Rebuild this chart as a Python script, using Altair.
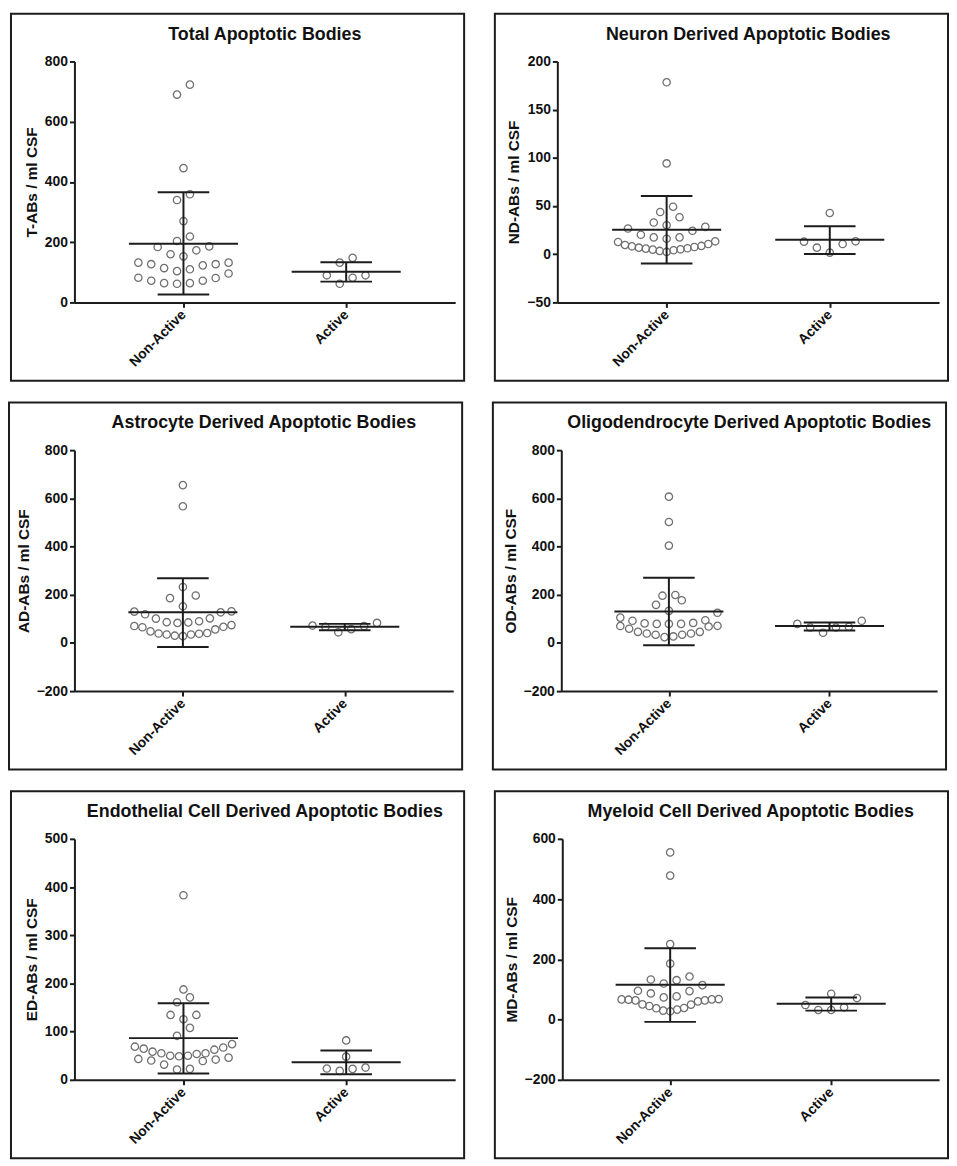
import altair as alt
import pandas as pd

GROUPS = ["Non-Active", "Active"]

TITLES = [
    "Total Apoptotic Bodies",
    "Neuron Derived Apoptotic Bodies",
    "Astrocyte Derived Apoptotic Bodies",
    "Oligodendrocyte Derived Apoptotic Bodies",
    "Endothelial Cell Derived Apoptotic Bodies",
    "Myeloid Cell Derived Apoptotic Bodies",
]
Y_TITLES = [
    "T-ABs / ml CSF",
    "ND-ABs / ml CSF",
    "AD-ABs / ml CSF",
    "OD-ABs / ml CSF",
    "ED-ABs / ml CSF",
    "MD-ABs / ml CSF",
]
Y_DOMAINS = [[0, 800], [-50, 200], [-200, 800], [-200, 800], [0, 500], [-200, 600]]
Y_STEPS = [200, 50, 200, 200, 100, 200]

TOTAL_NON = [723, 690, 446, 359, 340, 270, 219, 204, 186, 173, 184, 160, 153, 132, 127,
             123, 110, 104, 114, 127, 132, 96, 82, 72, 64, 62, 64, 72, 81]
TOTAL_ACT = [148, 132, 90, 90, 82, 62]
ND_NON = [178.4, 94.2, 49.3, 43.8, 38.4, 32.9, 30.1, 26.7, 28.4, 24.3, 20.2, 17.5, 17.5,
          16.1, 13.4, 12.7, 10.6, 9.6, 8.6, 8.2, 7.5, 6.8, 6.2, 5.8, 5.1, 4.8, 4.1, 3.4, 2.4]
ND_ACT = [42.8, 13.4, 13.0, 10.6, 6.8, 1.7]
AD_NON = [655, 567, 232, 197, 186, 152, 131, 127, 130, 119, 102, 101, 90, 85, 83, 86,
          74, 67, 70, 65, 56, 48, 41, 38, 39, 35, 35, 30, 28]
AD_ACT = [83, 72, 67, 70, 57, 44]
OD_NON = [607, 502, 404, 199, 196, 177, 158, 133, 125, 105, 92, 94, 81, 79, 79, 79,
          83, 71, 70, 68, 59, 46, 46, 39, 39, 34, 34, 27, 24]
OD_ACT = [92, 79, 64, 64, 67, 42]
ED_NON = [383, 187.5, 171, 161, 134.6, 134.6, 125.7, 107.8, 91.3, 74, 67, 68.7, 62.5,
          64.6, 55, 53.6, 55, 58.4, 50, 48.8, 50, 43.3, 40, 46, 42, 39, 31.6, 21.3, 22.7]
ED_ACT = [81.7, 48, 23.4, 18.5, 22.7, 25.4]
MD_NON = [555, 478, 250.5, 185.7, 142.9, 133, 130.8, 119.8, 114.3, 94.5, 95.6, 86.8,
          76.9, 73.6, 68, 67, 63.7, 60.4, 67, 66, 63.7, 49.5, 50.5, 38.5, 45, 33, 37.4,
          27.5, 29.7]
MD_ACT = [85.7, 71.4, 48.4, 40.7, 31.9, 31.9]

NON = [TOTAL_NON, ND_NON, AD_NON, OD_NON, ED_NON, MD_NON]
ACT = [TOTAL_ACT, ND_ACT, AD_ACT, OD_ACT, ED_ACT, MD_ACT]

# mean and SD limits as drawn
MEANS = [[195, 102], [25.3, 15.1], [127, 67], [130, 70], [86.5, 36.4], [115.4, 52.7]]
UPPER = [[366, 133], [60.3, 29.1], [268, 79], [270, 85], [158.7, 61], [237, 73.6]]
LOWER = [[26, 69], [-9.6, 0.3], [-17, 53], [-10, 52], [13, 11.7], [-7.7, 29.7]]

# layout / style
FONT = "Liberation Sans"
LEFT_PAD = [64, 63, 66, 69, 64, 68]
PLOT_W = [384, 385, 382, 379, 384, 380]
RIGHT_PAD = 9
TOP_PAD = 48
PLOT_H = 243
BOTTOM_PAD = 79
INK = "#1c1c1c"


def dot_layout(values, ppu, bin_px=12.5, s_max=13.0, span_max=98.0):
    """Scatter-dot layout: values binned into rows, each row spread horizontally
    (lowest value nearest the centre). Returns pixel x-offsets."""
    order = sorted(range(len(values)), key=lambda i: values[i])
    offs = [0.0] * len(values)
    rows, cur = [], []
    for i in order:
        if cur and (values[i] - values[cur[0]]) * ppu > bin_px:
            rows.append(cur)
            cur = []
        cur.append(i)
    if cur:
        rows.append(cur)
    for row in rows:
        n = len(row)
        s = s_max if n < 2 else min(s_max, span_max / (n - 1))
        slots = [(k - (n - 1) / 2.0) * s for k in range(n)]
        slots.sort(key=lambda x: (abs(x), x))
        for idx, slot in zip(row, slots):
            offs[idx] = slot
    return offs


def panel(i):
    W = PLOT_W[i]
    L = LEFT_PAD[i]
    lo, hi = Y_DOMAINS[i]
    ppu = PLOT_H / (hi - lo)
    rows = []
    for g, vals in zip(GROUPS, [NON[i], ACT[i]]):
        offs = dot_layout(vals, ppu)
        for v, o in zip(vals, offs):
            rows.append({"Group": g, "value": v, "off": o})
    pts = pd.DataFrame(rows)
    summ = pd.DataFrame({"Group": GROUPS, "mean": MEANS[i],
                         "upper": UPPER[i], "lower": LOWER[i]})

    xscale = alt.Scale(type="point", domain=GROUPS, padding=0.67)
    xaxis = alt.Axis(title=None, labelAngle=-45, labelAlign="right",
                     labelBaseline="middle", labelPadding=5)

    def X():
        return alt.X("Group:N", scale=xscale, axis=xaxis, sort=GROUPS)

    yscale = alt.Scale(domain=[lo, hi], nice=False, zero=False)
    yaxis = alt.Axis(title=Y_TITLES[i], values=list(range(lo, hi + 1, Y_STEPS[i])),
                     titlePadding=5)

    def Y(f):
        return alt.Y(f, type="quantitative", scale=yscale, axis=yaxis)

    one = pd.DataFrame({"k": [0]})
    box = alt.Chart(one).mark_rect(
        fillOpacity=0, stroke=INK, strokeWidth=2
    ).encode(
        x=alt.value(-L), x2=alt.value(W + RIGHT_PAD),
        y=alt.value(-TOP_PAD), y2=alt.value(PLOT_H + BOTTOM_PAD),
    )
    title = alt.Chart(one).mark_text(
        font=FONT, fontSize=18, fontWeight="bold", color="#111111",
        align="center", baseline="middle"
    ).encode(x=alt.value(W / 2), y=alt.value(-27), text=alt.value(TITLES[i]))
    points = alt.Chart(pts).mark_point(
        shape="circle", filled=False, size=55, color="#707070",
        strokeWidth=1.3, opacity=1
    ).encode(
        x=X(), y=Y("value"),
        xOffset=alt.XOffset("off:Q", scale=alt.Scale(domain=[-100, 100], range=[-100, 100])),
    )
    rule = alt.Chart(summ).mark_rule(color=INK, strokeWidth=2).encode(
        x=X(), y=Y("lower"), y2="upper"
    )
    mean = alt.Chart(summ).mark_tick(size=110, thickness=2, color=INK, opacity=1).encode(
        x=X(), y=Y("mean")
    )
    caps = alt.Chart(summ).transform_fold(
        ["upper", "lower"], as_=["end", "yv"]
    ).mark_tick(size=52, thickness=2, color=INK, opacity=1).encode(
        x=X(), y=Y("yv:Q")
    )
    return alt.layer(box, title, points, rule, mean, caps).properties(
        width=W, height=PLOT_H
    )


rows = [alt.hconcat(panel(2 * r), panel(2 * r + 1), spacing=29) for r in range(3)]
chart = alt.vconcat(*rows, spacing=20).properties(padding=0).configure_view(
    strokeWidth=0
).configure_axis(
    grid=False, domainColor=INK, domainWidth=2, tickColor=INK, tickWidth=2,
    tickSize=5, labelFont=FONT, labelFontSize=14, labelFontWeight="bold",
    labelColor="#111111", titleFont=FONT, titleFontSize=15.5, titleFontWeight="bold",
    titleColor="#111111",
)

chart.save("out.html", embed_options={"renderer": "svg", "actions": False})
